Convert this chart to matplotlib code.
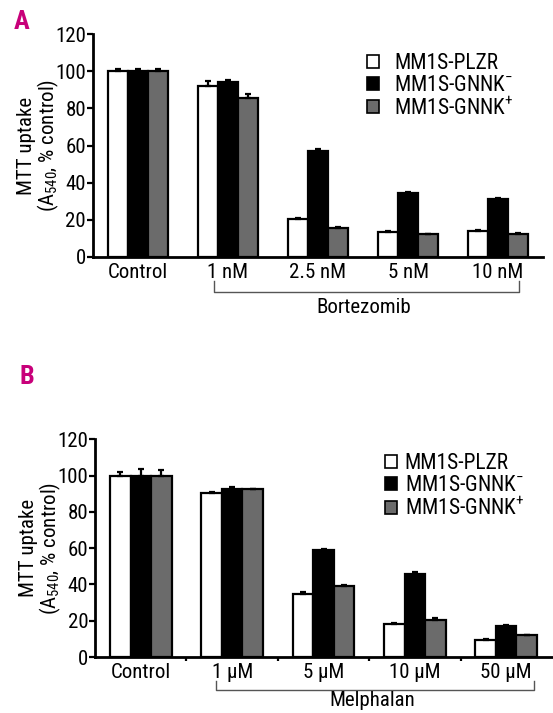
import matplotlib
matplotlib.use("Agg")
import matplotlib.pyplot as plt
import numpy as np
from matplotlib.patches import Patch

plt.rcParams['font.family'] = ['Roboto Condensed', 'DejaVu Sans']
plt.rcParams['mathtext.default'] = 'regular'

series = ["MM1S-PLZR", "MM1S-GNNK$^{-}$", "MM1S-GNNK$^{+}$"]
colors = ["white", "black", "#6b6b6b"]

cats_a = ["Control", "1 nM", "2.5 nM", "5 nM", "10 nM"]
plzr_a = [100, 91.9, 20.3, 13.6, 14.2]
gnkm_a = [100, 94.4, 57.2, 34.6, 31.4]
gnkp_a = [100, 85.4, 15.8, 12.2, 12.5]
err_plzr_a = [1.0, 3.0, 0.6, 0.4, 0.5]
err_gnkm_a = [1.5, 1.0, 0.8, 0.6, 0.6]
err_gnkp_a = [1.2, 2.3, 0.4, 0.4, 0.4]
drug_a = "Bortezomib"

cats_b = ["Control", "1 \u03bcM", "5 \u03bcM", "10 \u03bcM", "50 \u03bcM"]
plzr_b = [100, 90.6, 34.8, 18.3, 9.5]
gnkm_b = [100, 92.8, 58.7, 45.8, 17.2]
gnkp_b = [100, 92.3, 38.9, 20.5, 11.9]
err_plzr_b = [2.2, 0.4, 1.0, 0.3, 0.5]
err_gnkm_b = [3.5, 0.6, 1.0, 1.0, 0.3]
err_gnkp_b = [3.3, 0.5, 0.6, 0.8, 0.5]
drug_b = "Melphalan"

fig = plt.figure(figsize=(5.53, 7.13), dpi=100)
axA = fig.add_axes([0.168, 0.6396, 0.814, 0.3124])
axB = fig.add_axes([0.172, 0.0785, 0.826, 0.3055])

FS = 15
LFS = 15.5

def draw(ax, cats, vals, errs, drug, bracket, boundary_ticks, leg_anchor, leg_kw):
    x = np.arange(len(cats))
    w = 0.225
    for i, (v, e, c) in enumerate(zip(vals, errs, colors)):
        pos = x + (i - 1) * w
        ax.bar(pos, v, w, color=c, edgecolor="black", linewidth=1.6, zorder=3)
        ax.errorbar(pos, v, yerr=[np.zeros(len(e)), e], fmt="none",
                    ecolor="black", elinewidth=1.6, capsize=2.5, capthick=1.6, zorder=4)
    ax.set_xlim(-0.5, 4.5)
    ax.set_ylim(0, 120)
    ax.set_yticks([0, 20, 40, 60, 80, 100, 120])
    ax.set_xticks(x)
    ax.set_xticklabels(cats, fontsize=FS)
    ax.tick_params(axis="x", length=0, pad=4)
    ax.tick_params(axis="y", labelsize=FS, length=4, width=1.6, pad=1)
    if boundary_ticks:
        ax.set_xticks(np.arange(0.5, 4.5, 1.0), minor=True)
        ax.tick_params(axis="x", which="minor", length=3, width=1.6, direction="out")
    for s in ["top", "right"]:
        ax.spines[s].set_visible(False)
    for s in ["left", "bottom"]:
        ax.spines[s].set_linewidth(2)
    ax.set_ylabel("MTT uptake\n(A$_{540}$, % control)", fontsize=FS, linespacing=1.0)
    ax.yaxis.set_label_coords(-0.07, 0.5)
    x0, x1, yb, ytop, tgap = bracket
    trans = ax.get_xaxis_transform()
    ax.plot([x0, x0, x1, x1], [ytop, yb, yb, ytop], color="#555555", lw=1.0,
            transform=trans, clip_on=False)
    ax.text((x0 + x1) / 2 - 0.03, yb - tgap, drug, transform=trans, ha="center", va="top",
            fontsize=FS)
    ax.legend([Patch(facecolor=c, edgecolor="black", linewidth=1.2) for c in colors],
              series, loc="upper left", bbox_to_anchor=leg_anchor, frameon=False,
              fontsize=LFS, handleheight=0.55, labelspacing=0.05, borderaxespad=0,
              borderpad=0, **leg_kw)

draw(axA, cats_a, [plzr_a, gnkm_a, gnkp_a], [err_plzr_a, err_gnkm_a, err_gnkp_a],
     drug_a, (0.84, 4.23, -0.157, -0.11, 0.025), False, (0.61, 0.915),
     dict(handlelength=0.55, handletextpad=0.7))
draw(axB, cats_b, [plzr_b, gnkm_b, gnkp_b], [err_plzr_b, err_gnkm_b, err_gnkp_b],
     drug_b, (0.82, 4.3, -0.15, -0.11, 0.005), True, (0.635, 0.935),
     dict(handlelength=0.55, handletextpad=0.35))

fig.text(0.025, 0.969, "A", color="#C8007A", fontsize=19, fontweight="bold", va="center", ha="left")
fig.text(0.036, 0.471, "B", color="#C8007A", fontsize=19, fontweight="bold", va="center", ha="left")

fig.savefig("out.png", dpi=100)
